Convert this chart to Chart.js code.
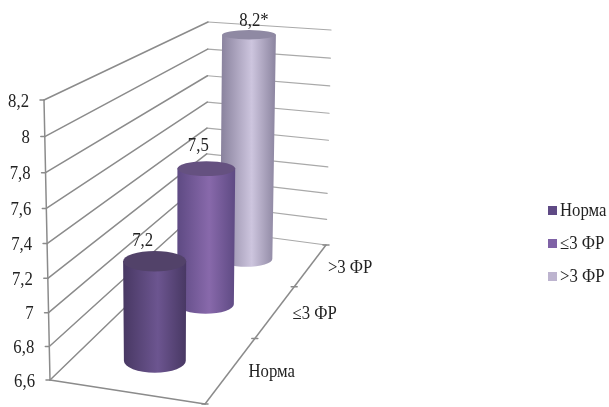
<!DOCTYPE html>
<html>
<head>
<meta charset="utf-8">
<style>
  html, body { margin: 0; padding: 0; background: #fff; }
  #wrap { width: 609px; height: 407px; }
</style>
<script src="https://cdn.jsdelivr.net/npm/chart.js@4"></script>
</head>
<body>
<div id="wrap"><canvas id="chart"></canvas></div>
<script>
const categories = ["Норма", "≤3 ФР", ">3 ФР"];
const values = [7.2, 7.5, 8.2];
const valueLabels = ["7,2", "7,5", "8,2*"];
const tickValues = [6.6, 6.8, 7, 7.2, 7.4, 7.6, 7.8, 8, 8.2];
const tickLabels = ["6,6", "6,8", "7", "7,2", "7,4", "7,6", "7,8", "8", "8,2"];

// cylinder shades: edge, centre, lid, legend swatch
const shades = [
  { edge: "#483863", mid: "#6c5590", lid: "#524269", box: "#5f4a85" },
  { edge: "#5e4a83", mid: "#8869ab", lid: "#655180", box: "#7f62a6" },
  { edge: "#8b849f", mid: "#cdc5de", lid: "#8f89a3", box: "#bdb4cf" },
];
const labelNudge = [[-12, -20], [-8, -22], [5, -13]];

const serif = '"Liberation Serif", "Times New Roman", serif';
const textColor = "#222";

// corners of the 3D box on screen: floor, then the 8,2 level
const floor = { fl: [50, 380], fr: [205, 404], bl: [206, 229], br: [326, 245] };
const ceil = { fl: [44, 100], fr: [208, 144], bl: [208, 22], br: [331, 30] };

const lerp = (a, b, k) => [a[0] + (b[0] - a[0]) * k, a[1] + (b[1] - a[1]) * k];
const warp = (v, k) => (k * v) / (1 + (k - 1) * v);

function quad(q, u, d) {
  return lerp(lerp(q.fl, q.fr, u), lerp(q.bl, q.br, u), d);
}

// u: across the floor, d: front to back, t: 0 at axis minimum, 1 at maximum
function project(u, d, t) {
  const dw = warp(d, 1.4);
  return lerp(quad(floor, u, dw), quad(ceil, u, dw), warp(t, 0.95));
}

function line(ctx, a, b) {
  ctx.beginPath();
  ctx.moveTo(a[0], a[1]);
  ctx.lineTo(b[0], b[1]);
  ctx.stroke();
}

// labels run a little narrow and tall
function label(ctx, text, x, y) {
  ctx.fillText(text, x, y, ctx.measureText(text).width * 0.93);
}

function ellipseAt(u, d, t) {
  const c = project(u, d, t);
  const rx = Math.abs(project(u + 0.21, d, t)[0] - project(u - 0.21, d, t)[0]) / 2;
  const ry = Math.abs(project(u, d - 0.063, t)[1] - project(u, d + 0.063, t)[1]) / 2;
  return { x: c[0], y: c[1], rx, ry };
}

function drawCylinder(ctx, d, t, shade) {
  const base = ellipseAt(0.48, d, 0);
  const top = ellipseAt(0.48, d, t);
  base.y += 3;
  top.y -= 3;
  const grad = ctx.createLinearGradient(top.x - top.rx, 0, top.x + top.rx, 0);
  grad.addColorStop(0, shade.edge);
  grad.addColorStop(0.55, shade.mid);
  grad.addColorStop(1, shade.edge);

  ctx.fillStyle = grad;
  ctx.beginPath();
  ctx.ellipse(base.x, base.y, base.rx, base.ry, 0, Math.PI, 0, true);
  ctx.lineTo(top.x + top.rx, top.y);
  ctx.lineTo(top.x - top.rx, top.y);
  ctx.closePath();
  ctx.fill();

  ctx.fillStyle = shade.lid;
  ctx.beginPath();
  ctx.ellipse(top.x, top.y, top.rx, top.ry, 0, 0, Math.PI * 2);
  ctx.fill();
  return top;
}

const box3d = {
  id: "box3d",
  beforeDatasetsDraw(chart) {
    const ctx = chart.ctx;
    const y = chart.scales.y;
    const level = (v) => (y.bottom - y.getPixelForValue(v)) / (y.bottom - y.top);

    ctx.save();
    ctx.lineCap = "round";

    // back wall first, it is the lighter one
    ctx.strokeStyle = "#a9a9a9";
    ctx.lineWidth = 1.2;
    tickValues.forEach((v) => {
      line(ctx, project(0, 1, level(v)), project(1, 1, level(v)));
    });

    // side wall and the value axis
    ctx.strokeStyle = "#8b8b8b";
    ctx.lineWidth = 1.5;
    tickValues.forEach((v) => {
      const a = project(0, 0, level(v));
      line(ctx, a, project(0, 1, level(v)));
      line(ctx, [a[0] - 4, a[1]], a);
    });
    line(ctx, project(0, 0, 0), project(0, 0, 1));

    // floor edges and depth ticks
    line(ctx, project(0, 0, 0), project(1, 0, 0));
    line(ctx, project(1, 0, 0), project(1, 1, 0));
    [0, 1 / 3, 2 / 3, 1].forEach((d) => {
      const a = project(1, d, 0);
      line(ctx, [a[0] - 3, a[1]], [a[0] + 3, a[1]]);
    });

    ctx.fillStyle = textColor;
    ctx.font = "18px " + serif;
    ctx.textBaseline = "middle";

    ctx.textAlign = "right";
    tickValues.forEach((v, i) => {
      const a = project(0, 0, level(v));
      label(ctx, tickLabels[i], a[0] - 15, a[1] + 2);
    });

    ctx.textAlign = "left";
    categories.forEach((name, i) => {
      const a = project(1, (i + 0.5) / 3, 0);
      label(ctx, name, a[0] + 17, a[1] + 3);
    });

    // far cylinder first so the nearer ones cover it
    for (let i = categories.length - 1; i >= 0; i--) {
      const bar = chart.getDatasetMeta(i).data[0];
      const t = (y.bottom - bar.y) / (y.bottom - y.top);
      const top = drawCylinder(ctx, (i + 0.5) / 3, t, shades[i]);
      ctx.fillStyle = textColor;
      ctx.textAlign = "center";
      label(ctx, valueLabels[i], top.x + labelNudge[i][0], top.y + labelNudge[i][1]);
    }

    // legend
    categories.forEach((name, i) => {
      const rowY = 210 + i * 33;
      ctx.fillStyle = shades[i].box;
      ctx.fillRect(548, rowY - 4, 9, 9);
      ctx.fillStyle = textColor;
      ctx.textAlign = "left";
      label(ctx, name, 560, rowY + 1);
    });

    ctx.restore();
  },
  // the cylinders above replace the flat bars
  beforeDatasetDraw() {
    return false;
  },
};

const chart = new Chart(document.getElementById("chart").getContext("2d"), {
  type: "bar",
  data: {
    labels: [""],
    datasets: categories.map((name, i) => ({
      label: name,
      data: [values[i]],
      backgroundColor: shades[i].box,
    })),
  },
  options: {
    responsive: true,
    maintainAspectRatio: false,
    animation: false,
    plugins: { legend: { display: false }, tooltip: { enabled: false } },
    scales: {
      x: { display: false },
      y: {
        min: 6.6,
        max: 8.2,
        ticks: { display: false, stepSize: 0.2 },
        grid: { display: false },
        border: { display: false },
      },
    },
  },
  plugins: [box3d],
});
</script>
</body>
</html>
